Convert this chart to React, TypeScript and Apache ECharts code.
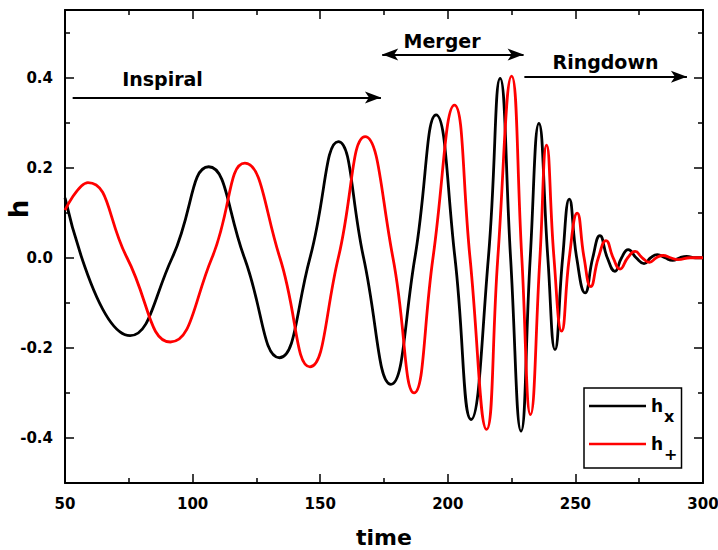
import React, { useEffect, useRef } from "react";
import * as echarts from "echarts";

// ---- data ----
const hxTime = [50, 75.5, 92, 106.3, 120.3, 134, 146, 157.1, 167, 177.7, 187.1, 195.4, 202.8, 209.1, 215.9, 220.5, 224.6, 228.7, 232.3, 235.7, 239.2, 242, 245, 247.6, 250.5, 253.8, 256.8, 259.6, 262.5, 265.5, 268.1, 270.7, 273.8, 276.9, 279.5, 282.1, 285.1, 288.1, 290.9, 293.6, 297, 300];
const hxValue = [0.133, -0.173, 0, 0.202, 0, -0.222, 0, 0.258, 0, -0.281, 0, 0.317, 0, -0.359, 0, 0.398, 0, -0.385, 0, 0.298, 0, -0.204, 0, 0.13, 0, -0.078, 0, 0.049, 0, -0.03, 0, 0.018, 0, -0.013, 0, 0.007, 0, -0.006, 0, 0.003, 0, 0];

const hpTime = [50, 59, 74.3, 91.3, 107.6, 120.5, 134.2, 146, 157.1, 167.6, 178.5, 186.8, 194.2, 202.6, 208.7, 215.2, 219.6, 225, 229, 232.4, 236.1, 238.7, 241.6, 244.6, 247.6, 250.7, 253.4, 256, 259, 262, 264.8, 267.5, 270.5, 273.4, 276.2, 279, 281.7, 284.4, 287.3, 290.2, 295, 300];
const hpValue = [0.106, 0.167, 0, -0.187, 0, 0.21, 0, -0.242, 0, 0.269, 0, -0.3, 0, 0.339, 0, -0.381, 0, 0.403, 0, -0.348, 0, 0.25, 0, -0.163, 0, 0.099, 0, -0.064, 0, 0.038, 0, -0.025, 0, 0.014, 0, -0.01, 0, 0.005, 0, -0.004, 0, 0];

const seriesNames = ["hx", "h+"];
const yLabelTicks = [-0.4, -0.2, 0, 0.2, 0.4];
const yMinorTicks = [-0.5, -0.3, -0.1, 0.1, 0.3, 0.5];

// phase annotations: [start time, end time, h level]
const inspiralArrow = [53, 173.8, 0.356];
const mergerArrow = [174.3, 229.7, 0.451];
const ringdownArrow = [230, 293.7, 0.4016];
const phaseLabels = ["Inspiral", "Merger", "Ringdown"];

const FONT = '"DejaVu Sans", "Liberation Sans", Arial, sans-serif';

export default function App() {
  const ref = useRef<HTMLDivElement>(null);

  useEffect(() => {
    if (!ref.current) return;
    const chart = echarts.init(ref.current, null, { renderer: "svg" });

    const hx = hxTime.map((t, i) => [t, hxValue[i]]);
    const hp = hpTime.map((t, i) => [t, hpValue[i]]);

    const axisLine = { show: true, onZero: false, lineStyle: { color: "#000", width: 2 } };
    const tickStyle = { color: "#000", width: 1.5 };

    const xBase = {
      type: "value",
      min: 50,
      max: 300,
      interval: 50,
      axisLine,
      splitLine: { show: false },
      axisTick: { show: true, inside: true, length: 9, lineStyle: tickStyle },
      minorTick: { show: true, splitNumber: 2, length: 5, lineStyle: tickStyle },
    };

    const yBase = {
      type: "value",
      min: -0.5,
      max: 0.55,
      splitLine: { show: false },
    };

    const option = {
      animation: false,
      grid: { left: 65, right: 15, top: 10, bottom: 67, containLabel: false, outerBoundsMode: "none" },
      xAxis: [
        {
          ...xBase,
          position: "bottom",
          name: "time",
          nameLocation: "middle",
          nameGap: 43,
          nameTextStyle: { fontFamily: FONT, fontWeight: "bold", fontSize: 22, color: "#000" },
          axisLabel: { fontFamily: FONT, fontWeight: "bold", fontSize: 15, color: "#000", margin: 13, showMinLabel: true, showMaxLabel: true },
        },
        {
          ...xBase,
          position: "top",
          axisLabel: { show: false },
        },
      ],
      yAxis: [
        {
          ...yBase,
          position: "left",
          axisLine,
          axisTick: { show: true, inside: true, length: 9, lineStyle: tickStyle, customValues: yLabelTicks },
          axisLabel: {
            customValues: yLabelTicks,
            fontFamily: FONT,
            fontWeight: "bold",
            fontSize: 15,
            color: "#000",
            margin: 12,
            formatter: (v: number) => v.toFixed(1),
          },
        },
        {
          ...yBase,
          position: "left",
          axisLine: { show: false },
          axisLabel: { show: false },
          axisTick: { show: true, inside: true, length: 5, lineStyle: tickStyle, customValues: yMinorTicks },
        },
        {
          ...yBase,
          position: "right",
          axisLine,
          axisLabel: { show: false },
          axisTick: { show: true, inside: true, length: 9, lineStyle: tickStyle, customValues: yLabelTicks },
        },
        {
          ...yBase,
          position: "right",
          axisLine: { show: false },
          axisLabel: { show: false },
          axisTick: { show: true, inside: true, length: 5, lineStyle: tickStyle, customValues: yMinorTicks },
        },
      ],
      legend: {
        orient: "vertical",
        left: 584,
        top: 388,
        padding: [0, 4, 6, 5],
        itemGap: 2,
        itemWidth: 57,
        itemHeight: 2.5,
        icon: "rect",
        borderColor: "#000",
        borderWidth: 1.5,
        backgroundColor: "#fff",
        data: seriesNames,
        formatter: (name: string) => (name === "hx" ? "{h|h}{s|x}" : "{h|h}{s|+}"),
        textStyle: {
          color: "#000",
          rich: {
            h: { fontFamily: FONT, fontWeight: "bold", fontSize: 17, lineHeight: 16, color: "#000" },
            s: { fontFamily: FONT, fontWeight: "bold", fontSize: 16, lineHeight: 16, color: "#000", padding: [20, 0, 0, 1] },
          },
        },
      },
      series: [
        {
          name: seriesNames[0],
          type: "line",
          data: hx,
          smooth: true,
          symbol: "none",
          showSymbol: false,
          xAxisIndex: 0,
          yAxisIndex: 0,
          lineStyle: { color: "#000", width: 2.8 },
          itemStyle: { color: "#000" },
          markLine: {
            silent: true,
            symbolSize: [9, 16],
            label: { show: false },
            lineStyle: { color: "#000", width: 2, type: "solid" },
            emphasis: { disabled: true },
            data: [
              [
                { coord: [inspiralArrow[0], inspiralArrow[2]], symbol: "none" },
                { coord: [inspiralArrow[1], inspiralArrow[2]], symbol: "arrow" },
              ],
              [
                { coord: [mergerArrow[0], mergerArrow[2]], symbol: "arrow" },
                { coord: [mergerArrow[1], mergerArrow[2]], symbol: "arrow" },
              ],
              [
                { coord: [ringdownArrow[0], ringdownArrow[2]], symbol: "none" },
                { coord: [ringdownArrow[1], ringdownArrow[2]], symbol: "arrow" },
              ],
            ],
          },
        },
        {
          name: seriesNames[1],
          type: "line",
          data: hp,
          smooth: true,
          symbol: "none",
          showSymbol: false,
          xAxisIndex: 0,
          yAxisIndex: 0,
          lineStyle: { color: "#ff0000", width: 2.8 },
          itemStyle: { color: "#ff0000" },
        },
      ],
      graphic: [
        {
          type: "text",
          x: 19,
          y: 209,
          rotation: Math.PI / 2,
          style: { text: "h", font: `bold 26px ${FONT}`, fill: "#000", align: "center", verticalAlign: "middle" },
        },
        {
          type: "text",
          x: 162.5,
          y: 79,
          style: { text: phaseLabels[0], font: `bold 19px ${FONT}`, fill: "#000", align: "center", verticalAlign: "middle" },
        },
        {
          type: "text",
          x: 442,
          y: 41,
          style: { text: phaseLabels[1], font: `bold 19px ${FONT}`, fill: "#000", align: "center", verticalAlign: "middle" },
        },
        {
          type: "text",
          x: 605.5,
          y: 62,
          style: { text: phaseLabels[2], font: `bold 19px ${FONT}`, fill: "#000", align: "center", verticalAlign: "middle" },
        },
      ],
    };

    chart.setOption(option as any);
    return () => chart.dispose();
  }, []);

  return (
    <div
      ref={ref}
      style={{ position: "fixed", left: 0, top: 0, width: 718, height: 550, background: "#fff" }}
    />
  );
}
